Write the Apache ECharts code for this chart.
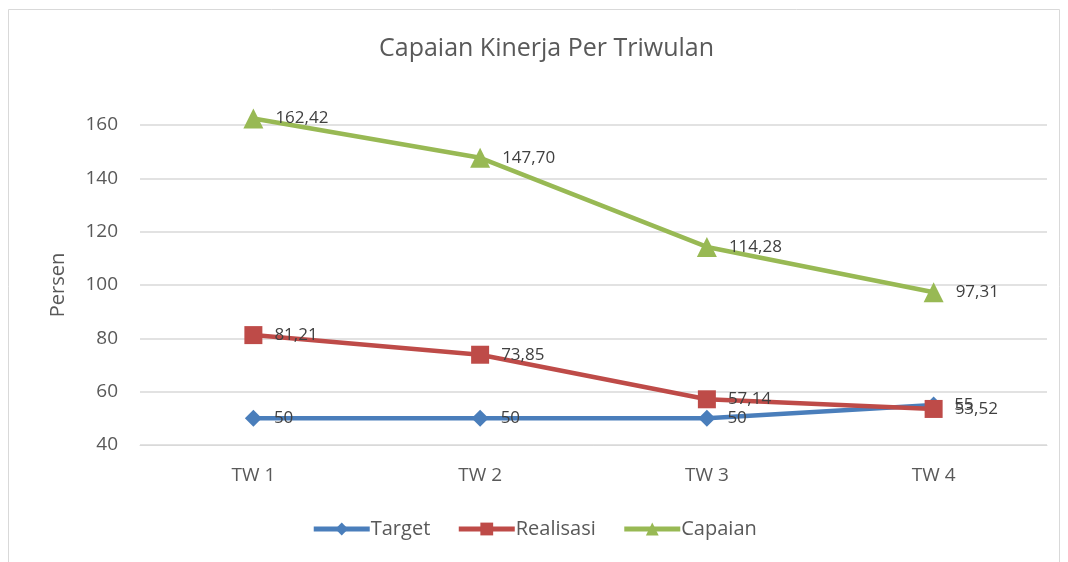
<!DOCTYPE html>
<html>
<head>
<meta charset="utf-8">
<script src="https://cdn.jsdelivr.net/npm/echarts@6/dist/echarts.min.js"></script>
<style>
    html, body { margin: 0; padding: 0; background: #fff; }
    #main { width: 1068px; height: 562px; }
</style>
</head>
<body>
<div id="main"></div>
<script>
var categories = ['TW 1', 'TW 2', 'TW 3', 'TW 4'];
var target = [50, 50, 50, 55];
var realisasi = [81.21, 73.85, 57.14, 53.52];
var capaian = [162.42, 147.70, 114.28, 97.31];

var font = '"Open Sans", Lato, sans-serif';

// excel style labels: comma as decimal separator
var fmt = function (digits) {
    return function (p) {
        return p.value.toFixed(digits).replace('.', ',');
    };
};

var makeSeries = function (name, data, color, symbol, size, digits) {
    return {
        name: name,
        type: 'line',
        data: data,
        symbol: symbol,
        symbolSize: size,
        clip: false,
        lineStyle: { color: color, width: 4.5 },
        itemStyle: { color: color },
        label: {
            show: true,
            position: 'right',
            distance: 12,
            color: '#404040',
            fontSize: 17,
            fontFamily: font,
            formatter: fmt(digits)
        }
    };
};

var chart = echarts.init(document.getElementById('main'));
chart.setOption({
    backgroundColor: '#fff',
    animation: false,
    title: {
        text: 'Capaian Kinerja Per Triwulan',
        left: 374,
        top: 31,
        textStyle: { color: '#595959', fontSize: 25, fontWeight: 'normal', fontFamily: font }
    },
    graphic: [{
        type: 'rect',
        shape: { x: 8.5, y: 9.5, width: 1051, height: 560 },
        style: { fill: 'none', stroke: '#d9d9d9', lineWidth: 1 }
    }],
    legend: {
        bottom: 18,
        left: 'center',
        itemWidth: 56,
        itemHeight: 16,
        itemGap: 26,
        lineStyle: { width: 5 },
        textStyle: { color: '#595959', fontSize: 20, fontFamily: font, padding: [0, 0, 0, -4] },
        data: ['Target', 'Realisasi', 'Capaian']
    },
    grid: { left: 140, right: 21, top: 125, bottom: 117 },
    xAxis: {
        type: 'category',
        data: categories,
        axisLine: { lineStyle: { color: '#d9d9d9' } },
        axisTick: { show: false },
        axisLabel: { color: '#595959', fontSize: 19, fontFamily: font, margin: 21 }
    },
    yAxis: {
        type: 'value',
        min: 40,
        max: 160,
        interval: 20,
        name: 'Persen',
        nameLocation: 'middle',
        nameGap: 72,
        nameTextStyle: { color: '#595959', fontSize: 20, fontFamily: font },
        axisLine: { show: false },
        axisTick: { show: false },
        splitLine: { lineStyle: { color: '#d9d9d9', width: 1.5 } },
        axisLabel: { color: '#595959', fontSize: 19, fontFamily: font, margin: 22 }
    },
    series: [
        makeSeries('Target', target, '#4a7ebb', 'diamond', 17, 0),
        makeSeries('Realisasi', realisasi, '#be4b48', 'rect', 18, 2),
        makeSeries('Capaian', capaian, '#98b954', 'triangle', 20, 2)
    ]
});
</script>
</body>
</html>
